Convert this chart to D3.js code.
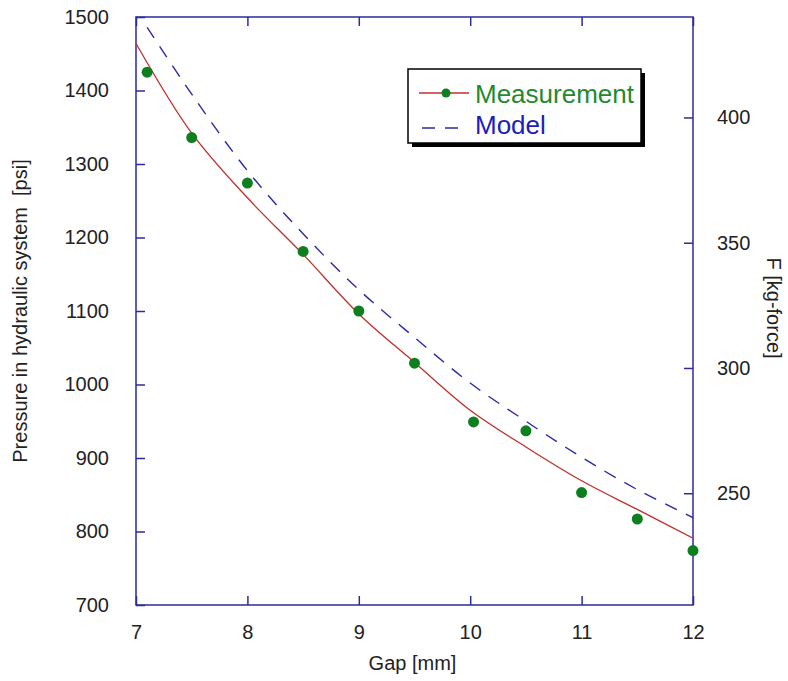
<!DOCTYPE html>
<html>
<head>
<meta charset="utf-8">
<title>Pressure vs Gap</title>
<script src="https://d3js.org/d3.v7.min.js"></script>
<style>
  body { margin: 0; background: #fff; }
  svg text { font-family: Arial, "Liberation Sans", sans-serif; fill: #222; }
</style>
</head>
<body>
<div id="chart"></div>
<script>
// measured points
const gapMeas = [7.1, 7.5, 8.0, 8.5, 9.0, 9.5, 10.03, 10.5, 11.0, 11.5, 12.0];
const psiMeas = [1425, 1336, 1274, 1181, 1100, 1029, 949, 937, 853, 817, 774];

// fitted curve through the measurement (red)
const gapFit = [7.0, 7.5, 8.0, 8.5, 9.0, 9.5, 10.0, 10.5, 11.0, 11.5, 12.0];
const psiFit = [1464, 1342, 1254, 1177, 1096, 1030, 965, 915, 869, 830, 791];

// model (blue dashed)
const gapModel = [7.1, 7.5, 8.0, 8.5, 9.0, 9.5, 10.0, 10.5, 11.0, 11.5, 12.0];
const psiModel = [1486, 1395, 1291, 1205, 1129, 1064, 1002, 950, 901, 857, 819];

const xTicks = [7, 8, 9, 10, 11, 12];
const yTicks = [700, 800, 900, 1000, 1100, 1200, 1300, 1400, 1500];
const fTicks = [250, 300, 350, 400];
const psiToKgf = 0.2934;

const W = 788, H = 681;
const pL = 136, pR = 693, pT = 17, pB = 605;
const axisColor = '#2b2b9b';

const svg = d3.select('#chart').append('svg')
  .attr('width', W).attr('height', H);

const x = d3.scaleLinear().domain([7, 12]).range([pL, pR]);
const y = d3.scaleLinear().domain([700, 1500]).range([pB, pT]);
const y2 = d3.scaleLinear().domain([700 * psiToKgf, 1500 * psiToKgf]).range([pB, pT]);

svg.append('clipPath').attr('id', 'plot')
  .append('rect').attr('x', pL).attr('y', pT)
  .attr('width', pR - pL).attr('height', pB - pT);

// frame
svg.append('rect')
  .attr('x', pL).attr('y', pT)
  .attr('width', pR - pL).attr('height', pB - pT)
  .attr('fill', 'none').attr('stroke', axisColor).attr('stroke-width', 1.5);

// axes with inward ticks
const styleAxis = g => {
  g.select('.domain').remove();
  g.selectAll('.tick line').attr('stroke', axisColor).attr('stroke-width', 1.5);
  g.selectAll('.tick text').attr('font-size', 20).attr('fill', '#222');
};

svg.append('g').attr('transform', `translate(0,${pB})`)
  .call(d3.axisBottom(x).tickValues(xTicks).tickSizeInner(-9).tickPadding(20).tickFormat(d3.format('d')))
  .call(styleAxis);

svg.append('g').attr('transform', `translate(0,${pT})`)
  .call(d3.axisTop(x).tickValues(xTicks).tickSizeInner(-9).tickFormat(''))
  .call(styleAxis);

svg.append('g').attr('transform', `translate(${pL},0)`)
  .call(d3.axisLeft(y).tickValues(yTicks).tickSizeInner(-9).tickPadding(27).tickFormat(d3.format('d')))
  .call(styleAxis);

svg.append('g').attr('transform', `translate(${pR},0)`)
  .call(d3.axisRight(y2).tickValues(fTicks).tickSizeInner(-9).tickPadding(24).tickFormat(d3.format('d')))
  .call(styleAxis);

// axis titles
svg.append('text')
  .attr('x', (pL + pR) / 2 - 2).attr('y', 670)
  .attr('text-anchor', 'middle').attr('font-size', 20)
  .text('Gap [mm]');

svg.append('text')
  .attr('transform', `translate(27,${(pT + pB) / 2}) rotate(-90)`)
  .attr('text-anchor', 'middle').attr('font-size', 20)
  .attr('xml:space', 'preserve')
  .text('Pressure in hydraulic system  [psi]');

svg.append('text')
  .attr('transform', `translate(767,${(pT + pB) / 2 - 3}) rotate(90)`)
  .attr('text-anchor', 'middle').attr('font-size', 20)
  .text('F [kg-force]');

// curves
const line = d3.line().curve(d3.curveCatmullRom)
  .x(d => x(d[0])).y(d => y(d[1]));

const plot = svg.append('g').attr('clip-path', 'url(#plot)');

plot.append('path')
  .datum(d3.zip(gapModel, psiModel))
  .attr('d', line)
  .attr('fill', 'none').attr('stroke', '#2a2aa8').attr('stroke-width', 1.4)
  .attr('stroke-dasharray', '13,10');

plot.append('path')
  .datum(d3.zip(gapFit, psiFit))
  .attr('d', line)
  .attr('fill', 'none').attr('stroke', '#c0302a').attr('stroke-width', 1.3);

svg.append('g').selectAll('circle')
  .data(d3.zip(gapMeas, psiMeas))
  .join('circle')
  .attr('cx', d => x(d[0])).attr('cy', d => y(d[1]))
  .attr('r', 5.5).attr('fill', '#0d7f1f');

// legend
const lg = svg.append('g');
lg.append('rect').attr('x', 412).attr('y', 73).attr('width', 233).attr('height', 74).attr('fill', '#000');
lg.append('rect').attr('x', 408).attr('y', 69).attr('width', 233).attr('height', 74)
  .attr('fill', '#fff').attr('stroke', '#000').attr('stroke-width', 1.5);
lg.append('line').attr('x1', 419).attr('x2', 469).attr('y1', 93).attr('y2', 93)
  .attr('stroke', '#c0302a').attr('stroke-width', 1.3);
lg.append('circle').attr('cx', 446).attr('cy', 93).attr('r', 4.5).attr('fill', '#0d7f1f');
lg.append('text').attr('x', 475).attr('y', 103).attr('font-size', 26)
  .style('fill', '#1f8a2e').text('Measurement');
lg.append('line').attr('x1', 422).attr('x2', 459).attr('y1', 128).attr('y2', 128)
  .attr('stroke', '#2a2aa8').attr('stroke-width', 1.4).attr('stroke-dasharray', '13,10');
lg.append('text').attr('x', 475).attr('y', 134).attr('font-size', 26)
  .style('fill', '#1c1cc0').text('Model');
</script>
</body>
</html>
